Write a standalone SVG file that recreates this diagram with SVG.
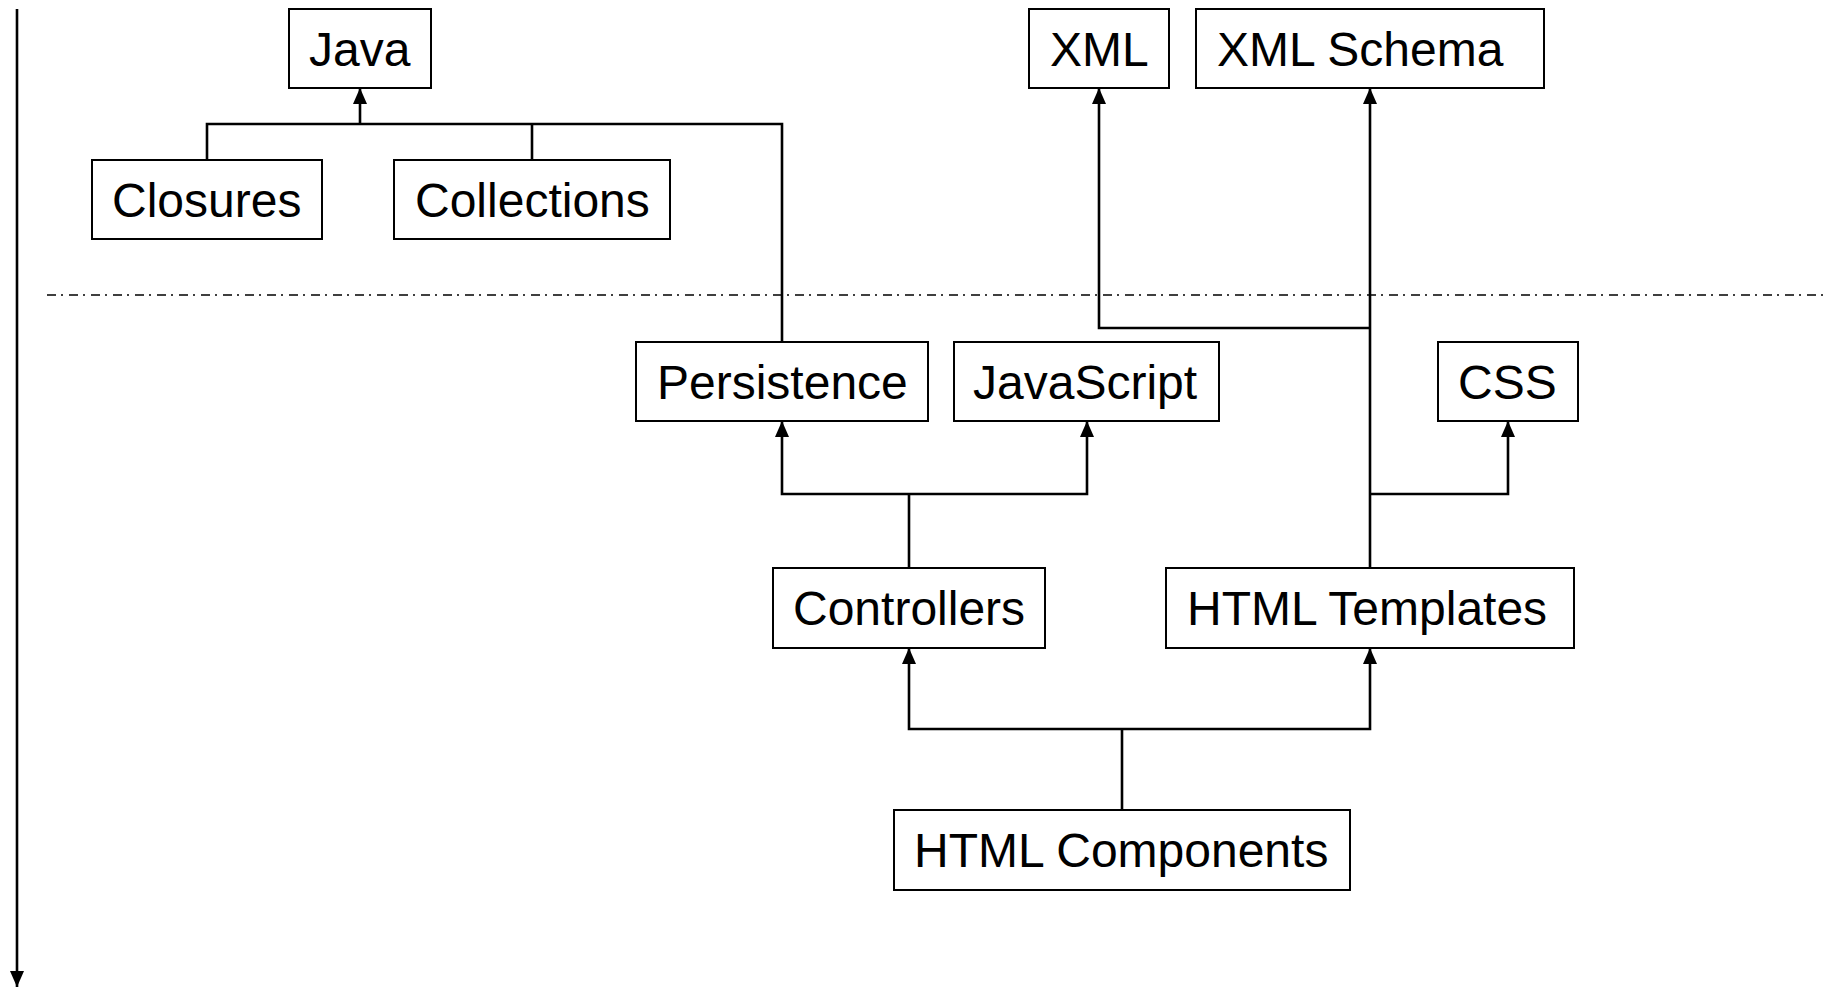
<svg xmlns="http://www.w3.org/2000/svg" width="1829" height="987" viewBox="0 0 1829 987">
<style>
.box{fill:#fff;stroke:#000;stroke-width:2}
.lbl{font-family:"Liberation Sans",Arial,sans-serif;font-size:48px;fill:#000}
.ln{fill:none;stroke:#000;stroke-width:2.6}
</style>
<defs>
<marker id="ah" viewBox="0 0 16 14" refX="16" refY="7" markerWidth="16" markerHeight="14" markerUnits="userSpaceOnUse" orient="auto">
<path d="M0,0 L16,7 L0,14 Z" fill="#000"/>
</marker>
</defs>
<rect width="1829" height="987" fill="#fff"/>
<g id="axis">
<line x1="17" y1="9" x2="17" y2="987" class="ln" stroke-width="2.4" marker-end="url(#ah)"/>
</g>
<g id="separator">
<line x1="47" y1="295" x2="1827" y2="295" stroke="#000" stroke-width="1.6" stroke-dasharray="9 5 2 6"/>
</g>
<g id="connectors">
<polyline class="ln" points="207,160 207,124 782,124 782,342"/>
<line class="ln" x1="532" y1="160" x2="532" y2="124"/>
<line class="ln" x1="360" y1="124" x2="360" y2="88" marker-end="url(#ah)"/>
<polyline class="ln" points="1370,328 1099,328 1099,88" marker-end="url(#ah)"/>
<line class="ln" x1="1370" y1="568" x2="1370" y2="88" marker-end="url(#ah)"/>
<polyline class="ln" points="1370,494 1508,494 1508,421" marker-end="url(#ah)"/>
<line class="ln" x1="909" y1="568" x2="909" y2="494"/>
<polyline class="ln" points="909,494 782,494 782,421" marker-end="url(#ah)"/>
<polyline class="ln" points="909,494 1087,494 1087,421" marker-end="url(#ah)"/>
<line class="ln" x1="1122" y1="810" x2="1122" y2="729"/>
<polyline class="ln" points="1122,729 909,729 909,648" marker-end="url(#ah)"/>
<polyline class="ln" points="1122,729 1370,729 1370,648" marker-end="url(#ah)"/>
</g>
<g id="java"><rect class="box" x="289" y="9" width="142" height="79"/><text class="lbl" x="309" y="66">Java</text></g>
<g id="closures"><rect class="box" x="92" y="160" width="230" height="79"/><text class="lbl" x="112" y="217">Closures</text></g>
<g id="collections"><rect class="box" x="394" y="160" width="276" height="79"/><text class="lbl" x="415" y="217">Collections</text></g>
<g id="xml"><rect class="box" x="1029" y="9" width="140" height="79"/><text class="lbl" x="1050" y="66">XML</text></g>
<g id="xmlschema"><rect class="box" x="1196" y="9" width="348" height="79"/><text class="lbl" x="1217" y="66">XML Schema</text></g>
<g id="persistence"><rect class="box" x="636" y="342" width="292" height="79"/><text class="lbl" x="657" y="399">Persistence</text></g>
<g id="javascript"><rect class="box" x="954" y="342" width="265" height="79"/><text class="lbl" x="973" y="399">JavaScript</text></g>
<g id="css"><rect class="box" x="1438" y="342" width="140" height="79"/><text class="lbl" x="1458" y="399">CSS</text></g>
<g id="controllers"><rect class="box" x="773" y="568" width="272" height="80"/><text class="lbl" x="793" y="625">Controllers</text></g>
<g id="htmltemplates"><rect class="box" x="1166" y="568" width="408" height="80"/><text class="lbl" x="1187" y="625">HTML Templates</text></g>
<g id="htmlcomponents"><rect class="box" x="894" y="810" width="456" height="80"/><text class="lbl" x="914" y="867">HTML Components</text></g>
</svg>
